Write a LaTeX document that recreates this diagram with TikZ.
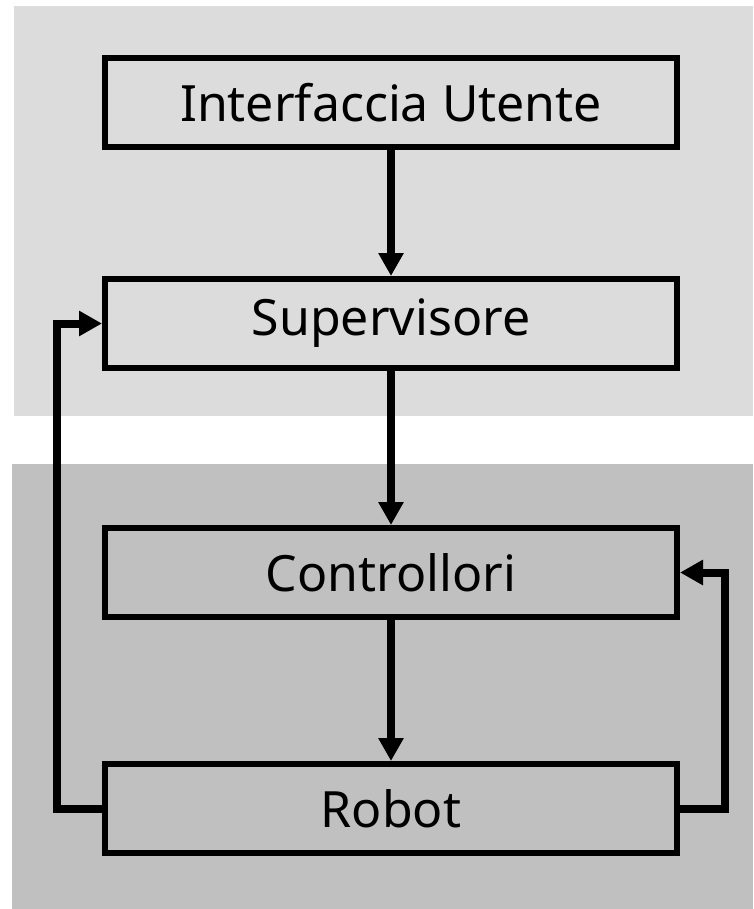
\documentclass[tikz,border=0pt]{standalone}
\usepackage{fontspec}
\setmainfont{Noto Sans}
\usetikzlibrary{arrows.meta}
\definecolor{lightpanel}{RGB}{220,220,220}
\definecolor{darkpanel}{RGB}{192,192,192}
\begin{document}
\begin{tikzpicture}[x=1pt,y=-1pt,
  box/.style={draw=black,line width=6pt,minimum width=572pt,minimum height=89pt,inner sep=0pt,font=\fontsize{50}{60}\selectfont},
  conn/.style={draw=black,line width=8pt,-{Triangle[length=23pt,width=24pt]}}]
\useasboundingbox (0,0) rectangle (753,909);
\fill[white] (0,0) rectangle (753,909);
\fill[lightpanel] (14,6) rectangle (753,416);
\fill[darkpanel] (12,464) rectangle (753,909);
\node[box] (iu) at (391,102.5) {Interfaccia Utente};
\node[box] (sv) at (391,323.5) {Supervisore};
\node[box] (ct) at (391,572.5) {Controllori};
\node[box] (rb) at (391,808.5) {Robot};
\draw[conn] (iu.south) -- (sv.north);
\draw[conn] (sv.south) -- (ct.north);
\draw[conn] (ct.south) -- (rb.north);
\draw[conn] (rb.west) -- ++(-45.5,0) |- (sv.west);
\draw[conn] (rb.east) -- ++(44.5,0) |- (ct.east);
\end{tikzpicture}
\end{document}
